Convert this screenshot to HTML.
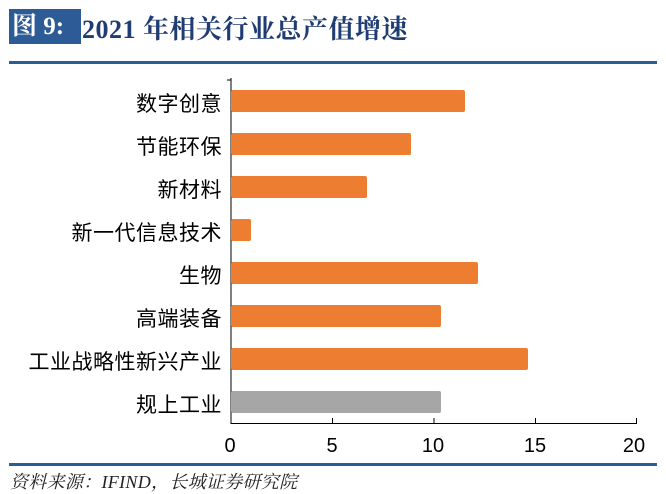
<!DOCTYPE html>
<html><head><meta charset="utf-8"><style>
body{margin:0;background:#fff;width:666px;height:494px;position:relative;overflow:hidden;font-family:"Liberation Sans","Noto Sans CJK SC",sans-serif}
.box{position:absolute;left:9px;top:9px;width:72px;height:35px;background:#2d5b95;color:#fff;font:bold 25px "Liberation Serif","Noto Serif CJK SC",serif;line-height:35px;padding-left:3px;box-sizing:border-box}
.title{position:absolute;left:82px;top:9px;height:35px;line-height:35px;color:#1f3c73;font:bold 26px "Liberation Serif","Noto Serif CJK SC",serif;letter-spacing:0.5px}
.hl{position:absolute;left:9px;width:648px;background:#2d5b95}
.lab{position:absolute;right:444px;font-size:21px;color:#000;white-space:nowrap;letter-spacing:0.5px}
.bar{position:absolute;left:231px;height:22px;border-radius:2px}
.tk{position:absolute;top:435px;font-size:20px;width:40px;text-align:center;margin-left:-20px}
.src{position:absolute;left:10px;top:468px;font:italic 18px "Liberation Serif","Noto Serif CJK SC",serif;color:#222;letter-spacing:0.3px}
</style></head><body>
<div class="box">图 9:</div>
<div class="title">2021 年相关行业总产值增速</div>
<div class="hl" style="top:61px;height:3px"></div>
<svg style="position:absolute;left:0;top:0" width="666" height="494">
<line x1="231" y1="78" x2="231" y2="424" stroke="#000" stroke-width="1"/>
<line x1="231" y1="423.5" x2="637" y2="423.5" stroke="#000" stroke-width="1"/>
<g stroke="#000"><line x1="332.5" y1="418" x2="332.5" y2="424"/><line x1="434" y1="418" x2="434" y2="424"/><line x1="535.5" y1="418" x2="535.5" y2="424"/><line x1="636.5" y1="418" x2="636.5" y2="424"/>
<line x1="227" y1="80" x2="231" y2="80"/></g>
</svg>
<div class="bar" style="top:90px;width:234px;background:#ed7d31"></div>
<div class="bar" style="top:133px;width:180px;background:#ed7d31"></div>
<div class="bar" style="top:176px;width:136px;background:#ed7d31"></div>
<div class="bar" style="top:219px;width:20px;background:#ed7d31"></div>
<div class="bar" style="top:262px;width:247px;background:#ed7d31"></div>
<div class="bar" style="top:305px;width:210px;background:#ed7d31"></div>
<div class="bar" style="top:348px;width:297px;background:#ed7d31"></div>
<div class="bar" style="top:391px;width:210px;background:#a6a6a6"></div>
<div class="lab" style="top:88px">数字创意</div>
<div class="lab" style="top:131px">节能环保</div>
<div class="lab" style="top:174px">新材料</div>
<div class="lab" style="top:217px">新一代信息技术</div>
<div class="lab" style="top:260px">生物</div>
<div class="lab" style="top:303px">高端装备</div>
<div class="lab" style="top:346px">工业战略性新兴产业</div>
<div class="lab" style="top:389px">规上工业</div>
<div class="tk" style="left:230px">0</div>
<div class="tk" style="left:332px">5</div>
<div class="tk" style="left:433px">10</div>
<div class="tk" style="left:535px">15</div>
<div class="tk" style="left:634px">20</div>
<div class="hl" style="top:463px;height:3px"></div>
<div class="src">资料来源：IFIND，长城证券研究院</div>
</body></html>
